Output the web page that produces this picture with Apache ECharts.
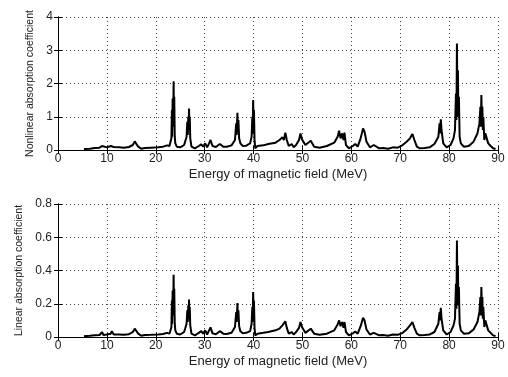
<!DOCTYPE html>
<html>
<head>
<meta charset="utf-8">
<script src="https://cdn.jsdelivr.net/npm/echarts@6/dist/echarts.min.js"></script>
<style>html,body{margin:0;padding:0;background:#fff;}#c{width:508px;height:377px;}</style>
</head>
<body>
<div id="c"></div>
<script>
var energy = [5.3,6.5,7.5,8.5,9.0,9.3,10.0,10.8,11.0,11.4,12.5,13.5,14.5,15.3,15.7,16.0,16.4,17.0,17.8,19.0,20.5,21.5,22.3,22.8,
  23.2,23.3,23.35,23.45,23.55,23.65,23.72,23.78,23.88,24.0,24.3,25.0,25.8,
  26.3,26.45,26.55,26.65,26.72,26.8,26.88,26.95,27.05,27.3,28.0,28.8,29.3,29.7,30.1,30.3,30.5,30.9,31.2,31.6,32.3,33.1,33.4,33.8,34.5,35.5,
  36.2,36.45,36.55,36.7,36.8,36.9,37.05,37.3,37.8,38.5,39.3,
  39.6,39.75,39.82,39.92,40.0,40.08,40.2,40.35,40.8,42.0,43.0,44.5,45.3,45.9,46.2,46.5,46.8,47.2,47.8,48.2,48.7,49.3,49.6,49.9,50.3,50.6,51.0,51.7,52.0,52.4,53.5,55.0,56.5,
  57.2,57.5,57.8,58.1,58.4,58.6,58.9,59.5,60.3,60.8,61.3,61.9,62.4,62.7,63.1,63.8,64.6,65.0,65.7,66.5,67.5,68.5,69.5,70.5,71.3,72.0,72.5,72.9,73.4,74.0,75.0,76.0,77.0,
  77.8,78.05,78.15,78.3,78.45,78.8,79.5,80.3,80.9,
  81.2,81.4,81.5,81.6,81.7,81.8,81.9,82.0,82.15,82.4,83.0,84.0,85.0,85.8,
  86.2,86.4,86.5,86.6,86.7,86.8,86.9,87.0,87.2,87.4,87.7,88.0,88.5,89.0,89.5];
var nonlinear = [0.03,0.04,0.06,0.07,0.12,0.06,0.08,0.12,0.17,0.09,0.08,0.07,0.09,0.15,0.26,0.22,0.1,0.04,0.06,0.07,0.08,0.1,0.14,0.12,
  0.35,1.2,0.4,1.55,0.7,2.07,0.9,1.6,0.4,0.2,0.1,0.08,0.15,
  0.4,0.85,0.45,1.0,0.6,1.25,0.7,1.0,0.35,0.1,0.05,0.12,0.17,0.1,0.2,0.25,0.08,0.2,0.3,0.12,0.09,0.18,0.2,0.1,0.1,0.14,
  0.3,0.8,0.45,1.12,0.6,0.9,0.35,0.2,0.12,0.13,0.2,
  0.4,1.0,0.5,1.5,0.8,1.2,0.3,0.05,0.12,0.14,0.18,0.22,0.3,0.38,0.3,0.52,0.3,0.12,0.18,0.08,0.15,0.3,0.5,0.32,0.35,0.15,0.1,0.28,0.3,0.1,0.07,0.12,0.22,
  0.4,0.58,0.35,0.5,0.3,0.52,0.15,0.05,0.12,0.18,0.1,0.35,0.65,0.55,0.25,0.08,0.15,0.1,0.05,0.06,0.04,0.08,0.07,0.15,0.25,0.35,0.48,0.3,0.1,0.05,0.06,0.08,0.18,
  0.4,0.8,0.5,0.92,0.6,0.2,0.08,0.15,0.35,
  0.6,1.7,0.9,3.2,1.5,2.4,1.0,1.6,0.4,0.2,0.1,0.12,0.25,0.5,
  0.8,1.3,0.7,1.65,0.9,1.3,0.6,1.0,0.3,0.5,0.45,0.2,0.12,0.05,0.03];
var linear = [0.005,0.007,0.01,0.012,0.03,0.012,0.015,0.02,0.035,0.015,0.015,0.013,0.017,0.03,0.05,0.045,0.02,0.008,0.012,0.013,0.015,0.018,0.025,0.02,
  0.06,0.22,0.08,0.28,0.13,0.375,0.17,0.29,0.08,0.04,0.02,0.015,0.03,
  0.08,0.16,0.09,0.19,0.11,0.225,0.13,0.18,0.07,0.02,0.01,0.025,0.035,0.02,0.04,0.048,0.015,0.04,0.058,0.022,0.017,0.035,0.04,0.02,0.018,0.025,
  0.06,0.15,0.09,0.205,0.11,0.16,0.065,0.035,0.022,0.025,0.035,
  0.08,0.18,0.09,0.27,0.15,0.22,0.055,0.01,0.02,0.025,0.03,0.04,0.05,0.07,0.06,0.095,0.055,0.02,0.03,0.015,0.03,0.055,0.09,0.06,0.065,0.025,0.02,0.05,0.055,0.02,0.013,0.02,0.04,
  0.075,0.1,0.065,0.09,0.055,0.09,0.03,0.01,0.022,0.033,0.02,0.065,0.115,0.1,0.045,0.015,0.025,0.02,0.01,0.012,0.008,0.015,0.013,0.025,0.045,0.07,0.09,0.055,0.02,0.01,0.012,0.015,0.03,
  0.08,0.15,0.1,0.175,0.11,0.04,0.015,0.03,0.07,
  0.11,0.32,0.17,0.58,0.28,0.43,0.19,0.3,0.08,0.04,0.02,0.022,0.045,0.09,
  0.15,0.24,0.13,0.3,0.17,0.24,0.11,0.18,0.06,0.1,0.09,0.04,0.025,0.01,0.005];
var xTicks = [0,10,20,30,40,50,60,70,80,90];
var xTitle = 'Energy of magnetic field (MeV)';
var yTitleTop = 'Nonlinear absorption coefficient';
var yTitleBottom = 'Linear absorption coefficient';

function pairs(xs, ys){ return xs.map(function(x,i){ return [x, ys[i]]; }); }

var FONT = 'Liberation Sans, Arial, sans-serif';
var TXT = '#222';

function xAx(gi){
  return [{
    gridIndex: gi, type: 'value', min: xTicks[0], max: xTicks[xTicks.length-1], interval: 10,
    name: xTitle, nameLocation: 'middle', nameGap: 18,
    nameTextStyle: {fontFamily: FONT, fontSize: 13, color: TXT},
    axisLine: {show: true, lineStyle: {color: '#000', width: 1}},
    axisTick: {show: true, inside: true, length: 4, lineStyle: {color: '#000'}},
    axisLabel: {fontFamily: FONT, fontSize: 12, color: TXT, margin: 3},
    splitLine: {show: true, lineStyle: {color: '#444', type: [1,3], width: 1}}
  },{
    gridIndex: gi, type: 'value', position: 'top', min: 0, max: 90, interval: 10,
    axisLine: {show: true, lineStyle: {color: '#000', width: 1}},
    axisTick: {show: true, inside: true, length: 4, lineStyle: {color: '#000'}},
    axisLabel: {show: false}, splitLine: {show: false}
  }];
}
function yAx(gi, max, interval, name, gap, margin){
  return [{
    gridIndex: gi, type: 'value', min: 0, max: max, interval: interval,
    name: name, nameLocation: 'middle', nameGap: gap,
    nameTextStyle: {fontFamily: FONT, fontSize: 10.5, color: TXT},
    axisLine: {show: true, lineStyle: {color: '#000', width: 1}},
    axisTick: {show: true, inside: true, length: 4, lineStyle: {color: '#000'}},
    axisLabel: {fontFamily: FONT, fontSize: 12, color: TXT, margin: margin},
    splitLine: {show: true, lineStyle: {color: '#444', type: [1,3], width: 1}}
  },{
    gridIndex: gi, type: 'value', position: 'right', min: 0, max: max, interval: interval,
    axisLine: {show: true, lineStyle: {color: '#000', width: 1}},
    axisTick: {show: true, inside: true, length: 4, lineStyle: {color: '#000'}},
    axisLabel: {show: false}, splitLine: {show: false}
  }];
}

var chart = echarts.init(document.getElementById('c'), null, {renderer: 'canvas'});
chart.setOption({
  animation: false,
  backgroundColor: '#fff',
  grid: [
    {left: 58, top: 17, width: 440, height: 133},
    {left: 58, top: 204, width: 440, height: 133}
  ],
  xAxis: xAx(0).concat(xAx(1)),
  yAxis: yAx(0, 4, 1, yTitleTop, 20, 5).concat(yAx(1, 0.8, 0.2, yTitleBottom, 33, 6)),
  series: [
    {type: 'line', xAxisIndex: 0, yAxisIndex: 0, data: pairs(energy, nonlinear), showSymbol: false,
     lineStyle: {color: '#000', width: 2}, z: 5},
    {type: 'line', xAxisIndex: 2, yAxisIndex: 2, data: pairs(energy, linear), showSymbol: false,
     lineStyle: {color: '#000', width: 2}, z: 5}
  ]
});
</script>
</body>
</html>
